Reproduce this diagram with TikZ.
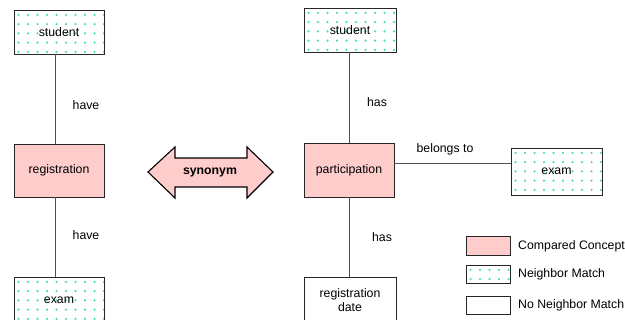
\documentclass[tikz,border=0pt]{standalone}
\usepackage{fontspec}
\setmainfont{Liberation Sans}
\definecolor{pinkfill}{RGB}{255,204,204}
\definecolor{dotc}{RGB}{72,222,182}
\definecolor{linec}{RGB}{80,80,80}
\begin{document}
\begin{tikzpicture}[x=1pt,y=-1pt,
  font=\fontsize{12.3}{14}\selectfont,
  box/.style={draw=black!85,line width=0.9pt,minimum width=90pt,inner sep=0pt,align=center},
  cpt/.style={box,fill=pinkfill},
  nbr/.style={box,fill=white,path picture={
     \coordinate (nw) at (path picture bounding box.north west);
     \foreach \i in {0,...,10}{\foreach \j in {0,...,6}{
       \fill[dotc] ([xshift={4.5pt+\i*9.5pt},yshift={-5pt-\j*9.2pt}]nw) circle[radius=1.25pt];}}}},
  plain/.style={box,fill=white},
  conn/.style={draw=linec,line width=0.9pt},
  lbl/.style={inner sep=0pt}]
\useasboundingbox (0,0) rectangle (625,320);
\clip (0,0) rectangle (625,320);
% left column
\node[nbr,minimum height=44pt] (sL) at (59,32) {student};
\node[cpt,minimum height=53pt] (rL) at (59,170.5) {registration};
\node[nbr,minimum height=47pt] (eL) at (59,300.5) {exam};
\draw[conn] ([xshift=-4pt]sL.south) -- ([xshift=-4pt]rL.north);
\draw[conn] ([xshift=-4pt]rL.south) -- ([xshift=-4pt]eL.north);
\node[lbl] (h1) at (86,105) {have};
\node[lbl] (h2) at (86,235) {have};
% synonym arrow
\filldraw[fill=pinkfill,draw=black,line width=1.1pt,line join=miter]
  (148,172) -- (175,147) -- (175,158) -- (247,158) -- (247,147) -- (273,172)
  -- (247,198) -- (247,187) -- (175,187) -- (175,198) -- cycle;
\node[lbl,font=\fontsize{12.3}{14}\selectfont\bfseries] (syn) at (210,172) {synonym};
% right column
\node[nbr,minimum width=92pt,minimum height=44pt] (sR) at (350,30) {student};
\node[cpt,minimum height=54pt] (pR) at (349,170) {participation};
\node[nbr,minimum width=91pt,minimum height=47pt] (eR) at (556.5,171.5) {exam};
\node[plain,minimum width=92pt,minimum height=47pt] (dR) at (350,300.5) {registration\\date};
\draw[conn] ([xshift=-1pt]sR.south) -- (pR.north);
\draw[conn] (pR.south) -- ([xshift=-1pt]dR.north);
\draw[conn] ([yshift=7pt]pR.east) -- ([yshift=8.5pt]eR.west);
\node[lbl] (h3) at (377,102) {has};
\node[lbl] (h4) at (382,237) {has};
\node[lbl] (bt) at (445,149) {belongs to};
% legend
\node[cpt,minimum width=44pt,minimum height=19pt] (lg1) at (488,245.5) {};
\node[nbr,minimum width=44pt,minimum height=18pt] (lg2) at (488,274) {};
\node[plain,minimum width=44pt,minimum height=18pt] (lg3) at (488,305) {};
\node[lbl,anchor=west] (lt1) at (518,246) {Compared Concept};
\node[lbl,anchor=west] (lt2) at (518,274) {Neighbor Match};
\node[lbl,anchor=west] (lt3) at (518,305) {No Neighbor Match};
\end{tikzpicture}
\end{document}
